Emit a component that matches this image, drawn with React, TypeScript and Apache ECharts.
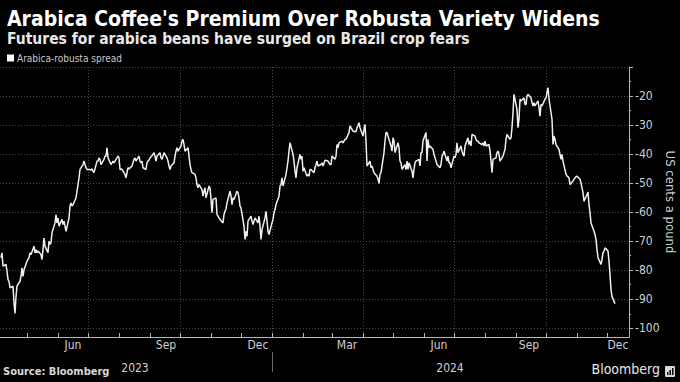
import React, { useEffect, useRef } from 'react';
import * as echarts from 'echarts';

const TITLE = "Arabica Coffee's Premium Over Robusta Variety Widens";
const SUBTITLE = 'Futures for arabica beans have surged on Brazil crop fears';
const SERIES_NAME = 'Arabica-robusta spread';
const Y_AXIS_NAME = 'US cents a pound';
const SOURCE = 'Source: Bloomberg';
const BRAND = 'Bloomberg';

// First trading day of the series and the x-axis extent
const FIRST_DAY = '2023-04-05';
const X_MIN = '2023-04-04';
const X_MAX = '2024-12-23';

// Daily arabica-robusta spread (US cents a pound), one value per trading day
const spreadAprJul2023 = [
  -75.7, -74, -78.6, -78, -80.3, -83.2, -83.8, -86.1, -85.5, -91.3,
  -94.9, -89, -85.5, -83.8, -82.1, -79.2, -82.1, -79.8, -76.9, -76.3,
  -75.7, -74, -74.6, -71.7, -74, -72.9, -74, -73.4, -74.6, -76.3,
  -72.9, -68.9, -71.7, -74, -70, -71.1, -70.6, -67.1, -63.7, -60.8,
  -63.7, -62, -64.8, -62.5, -64.3, -63.1, -64.8, -66.6, -62, -57.9,
  -56.8, -57.9, -57.4, -55.1, -52.8, -50.5, -48.2, -45.3, -43.6, -42.4,
  -43.6, -44.7, -45.3, -45.3, -45.5, -45.1, -45.9, -46.4, -42.4,
  -42.4, -41.3, -41.8, -43.6, -41.8, -40.7,
];
const spreadJulOct2023 = [
  -40.7, -37.8, -41.3, -43.6, -43, -42.4, -43, -42.4, -40.7, -41.3,
  -45.3, -45.1, -45.3, -47, -48.2, -46.4, -44.7, -45.1, -44.1, -43,
  -41.8, -41.3, -42.4, -40.7, -42.4, -43, -42.4, -44.7, -45.3, -43,
  -42.4, -42.1, -41.3, -40.1, -39.5, -40.7, -42.4, -40.7, -39.5, -41.3,
  -41.8, -40.7, -39.5, -41.3, -42.4, -44.1, -45.3, -44.1, -43, -40.7,
  -39, -37.8, -39, -37.2, -35.5, -34.9, -36.7, -39, -37.8, -40.7,
  -43.6, -45.3, -46.4, -47, -48.2, -50.5, -51.6, -50.5, -52.2, -54.5,
  -52.8, -51.6, -55.1, -51, -51.6,
];
const spreadOct2023Jan2024 = [
  -55.6, -60.2, -55.6, -55.1, -60.8, -61.4, -62, -62.5, -63.7, -60.8,
  -59.7, -58.9, -56.8, -52.8, -54.5, -57.4, -55.1, -55.6, -52.8, -53.3,
  -55.1, -57.9, -58.5, -64.8, -69.4, -66.6, -68.3, -63.1, -61.4, -63.1,
  -64.3, -63.1, -62, -63.7, -61.4, -64.8, -69.4, -66, -62, -59.7,
  -63.1, -66.6, -67.7, -63.7, -62.5, -60.2, -59.1, -57.4, -54.5, -51,
  -50.5, -48.2, -51, -47, -44.7, -42.4, -39, -36.1, -40.1, -42.4,
  -45.9, -48.2, -44.7, -40.1, -41.8, -40.7, -45.9, -44.7, -47.6, -47,
  -47.6, -45.3, -45.3, -46.4, -44.7,
];
const spreadJanApr2024 = [
  -43.6, -42.4, -44.1, -43.6, -43, -44.1, -43.2, -42.1, -42.4, -43,
  -43.6, -43.6, -40.7, -41.8, -40.7, -36.7, -37.8, -36.1, -35.5, -36.1,
  -35.5, -34.9, -34.9, -32.6, -30.3, -30.9, -31.5, -32.1, -32.3, -30.9,
  -30.1, -29.2, -30.9, -33.8, -31.5, -29.8, -35.5, -44.1, -42.4, -44.7,
  -44.1, -45.3, -46.4, -47.6, -48.5, -50.1, -47, -46.4, -39.5, -35.5,
  -32.6, -32.6, -33.8, -37.2, -39, -34.4, -35.5, -39.5, -36.1, -37.8,
  -42.4, -43, -45.3, -43.6, -45.3, -42.4, -45.3, -43, -45.9, -48.2,
  -45.3, -43, -42.4, -41.8, -44.1,
];
const spreadAprAug2024 = [
  -39.5, -39.5, -35.5, -32.6, -42.4, -34.9, -37.8, -37.2, -38.4, -40.1,
  -41.3, -42.4, -43.6, -44.7, -43.6, -40.7, -40.1, -39, -42.4, -40.7,
  -43, -43, -44.7, -40.7, -41.3, -40.1, -36.1, -39.5, -37.2, -39,
  -40.1, -40.7, -37.2, -34.4, -36.7, -35.5, -37.2, -33.2, -33.8, -34.9,
  -35.5, -35.5, -36.1, -36.7, -36.1, -37.2, -35.5, -37.2, -36.7, -39,
  -42.4, -46.4, -41.8, -41.3, -39.5, -39, -40.1, -42.4, -40.7, -39.5,
  -38.4, -34.9, -33.2, -34.9, -34.4, -30.9, -25.7, -19.4, -24.6, -30.9,
  -28, -21.1, -21.7, -20.6, -22.9,
];
const spreadAugDec2024 = [
  -22.9, -20, -19.4, -20.6, -22.3, -23.4, -22.3, -23.4, -21.7, -24,
  -26.9, -22.9, -23.4, -21.1, -20.6, -18.9, -17.1, -21.1, -28, -36.7,
  -33.8, -34.9, -36.7, -38.4, -40.1, -41.8, -40.1, -42.4, -47, -47.6,
  -47.8, -48.2, -50.5, -49.3, -48.7, -48.2, -47.8, -47.6, -48.7, -49.9,
  -51.6, -53.3, -56.2, -53.9, -53.1, -57.4, -60.2, -63.7, -66.6, -67.7,
  -69.4, -72.9, -75.7, -78, -76.3, -74, -73.4, -72.3, -73.4, -76.9,
  -81.5, -86.7, -89, -91.5,
];

// Axis ticks and labels
const yTickValues = [-100, -90, -80, -70, -60, -50, -40, -30, -20, -10];
const yLabelValues = [-100, -90, -80, -70, -60, -50, -40, -30, -20];
const yMinorTickValues = [-95, -85, -75, -65, -55, -45, -35, -25, -15];
const Y_MIN = -103;
const Y_MAX = -10;
const monthTickDates = [
  '2023-05-01', '2023-06-01', '2023-07-01', '2023-08-01', '2023-09-01', '2023-10-01',
  '2023-11-01', '2023-12-01', '2024-01-01', '2024-02-01', '2024-03-01', '2024-04-01',
  '2024-05-01', '2024-06-01', '2024-07-01', '2024-08-01', '2024-09-01', '2024-10-01',
  '2024-11-01', '2024-12-01',
];
const quarterGridDates = ['2023-07-01', '2023-10-01', '2024-01-01', '2024-04-01', '2024-07-01', '2024-10-01'];
const monthLabelDates = ['2023-06-16', '2023-09-17', '2023-12-18', '2024-03-16', '2024-06-16', '2024-09-14', '2024-12-12'];
const MONTH_NAMES = ['Jan', 'Feb', 'Mar', 'Apr', 'May', 'Jun', 'Jul', 'Aug', 'Sep', 'Oct', 'Nov', 'Dec'];
const yearLabelDates = ['2023-08-17', '2024-06-27'];
const YEAR_SEPARATOR_DATE = '2024-01-01';

const FONT = "'DejaVu Sans Condensed', 'Liberation Sans Narrow', 'DejaVu Sans', sans-serif";

function ts(s: string): number {
  const [y, m, d] = s.split('-').map(Number);
  return Date.UTC(y, m - 1, d);
}

function weekdaysFrom(start: string, count: number): number[] {
  const t = new Date(ts(start));
  const out: number[] = [];
  while (out.length < count) {
    const wd = t.getUTCDay();
    if (wd !== 0 && wd !== 6) out.push(t.getTime());
    t.setUTCDate(t.getUTCDate() + 1);
  }
  return out;
}

export default function App() {
  const ref = useRef<HTMLDivElement>(null);

  useEffect(() => {
    document.body.style.margin = '0';
    document.body.style.background = '#000';
    if (!ref.current) return;
    const chart = echarts.init(ref.current, undefined, { renderer: 'svg' });

    const values = [
      ...spreadAprJul2023,
      ...spreadJulOct2023,
      ...spreadOct2023Jan2024,
      ...spreadJanApr2024,
      ...spreadAprAug2024,
      ...spreadAugDec2024,
    ];
    const dates = weekdaysFrom(FIRST_DAY, values.length);
    const data = values.map((v, i) => [dates[i], v]);

    const axisGray = '#b8b8b8';
    const textGray = '#cfcfcf';
    const xMin = ts(X_MIN);
    const xMax = ts(X_MAX);

    chart.setOption({
      animation: false,
      backgroundColor: '#000',
      title: [
        {
          text: TITLE,
          left: 2,
          top: 3,
          textStyle: { fontFamily: FONT, fontSize: 21, fontWeight: 'bold', color: '#ffffff' },
        },
        {
          text: SUBTITLE,
          left: 2,
          top: 26,
          textStyle: { fontFamily: FONT, fontSize: 15.5, fontWeight: 'bold', color: '#e8e8e8' },
        },
      ],
      legend: {
        left: 2,
        top: 48,
        icon: 'rect',
        itemWidth: 7,
        itemHeight: 7,
        itemGap: 10,
        textStyle: { fontFamily: FONT, fontSize: 10, color: '#c8c8c8', padding: [0, 0, 0, -2] },
        data: [{ name: SERIES_NAME, itemStyle: { color: '#ffffff' } }],
      },
      grid: { left: 0, right: 51, top: 67, bottom: 45, containLabel: false, outerBoundsMode: 'none' },
      xAxis: [
        {
          type: 'value',
          position: 'bottom',
          min: xMin,
          max: xMax,
          axisLine: { show: true, lineStyle: { color: axisGray, width: 1 } },
          axisTick: { show: true, inside: true, length: 4, customValues: monthTickDates.map(ts), lineStyle: { color: axisGray } },
          axisLabel: {
            show: true,
            customValues: monthLabelDates.map(ts),
            margin: 2,
            fontFamily: FONT,
            fontSize: 12,
            color: textGray,
            formatter: (val: number) => MONTH_NAMES[new Date(val).getUTCMonth()],
          },
          splitLine: { show: false },
        },
        {
          type: 'value',
          position: 'bottom',
          min: xMin,
          max: xMax,
          axisLine: { show: false },
          axisTick: { show: false, customValues: quarterGridDates.map(ts) },
          axisLabel: { show: false },
          splitLine: { show: true, lineStyle: { color: '#4a4a4a', type: [1, 2], width: 1 } },
        },
        {
          type: 'value',
          position: 'bottom',
          offset: 16,
          min: xMin,
          max: xMax,
          axisLine: { show: false },
          axisTick: { show: false },
          axisLabel: {
            show: true,
            customValues: yearLabelDates.map(ts),
            margin: 9,
            fontFamily: FONT,
            fontSize: 12,
            color: textGray,
            formatter: (val: number) => String(new Date(val).getUTCFullYear()),
          },
          splitLine: { show: false },
        },
      ],
      yAxis: [
        {
          type: 'value',
          position: 'right',
          min: Y_MIN,
          max: Y_MAX,
          name: Y_AXIS_NAME,
          nameLocation: 'middle',
          nameRotate: -90,
          nameGap: 35,
          nameMoveOverlap: false,
          nameTextStyle: { fontFamily: FONT, fontSize: 13, color: textGray },
          axisLine: { show: true, lineStyle: { color: axisGray, width: 1 } },
          axisTick: { show: true, length: 4, customValues: yTickValues, lineStyle: { color: axisGray } },
          axisLabel: {
            show: true,
            customValues: yLabelValues,
            margin: 6,
            fontFamily: FONT,
            fontSize: 12,
            color: textGray,
          },
          splitLine: { show: true, lineStyle: { color: '#4a4a4a', type: [1, 2], width: 1 } },
        },
        {
          type: 'value',
          position: 'right',
          min: Y_MIN,
          max: Y_MAX,
          axisLine: { show: false },
          axisTick: { show: true, length: 2, customValues: yMinorTickValues, lineStyle: { color: axisGray } },
          axisLabel: { show: false },
          splitLine: { show: false },
        },
      ],
      series: [
        {
          name: SERIES_NAME,
          type: 'line',
          xAxisIndex: 0,
          yAxisIndex: 0,
          data,
          showSymbol: false,
          symbol: 'none',
          itemStyle: { color: '#ffffff' },
          lineStyle: { color: '#f0f0f0', width: 1.5 },
        },
      ],
      graphic: [
        {
          id: 'source',
          type: 'text',
          left: 3,
          top: 366,
          style: { text: SOURCE, fontFamily: FONT, fontSize: 11, fontWeight: 'bold', fill: '#d8d8d8' },
        },
        {
          id: 'brand',
          type: 'text',
          right: 20,
          top: 362,
          style: { text: BRAND, fontFamily: FONT, fontSize: 14, fill: '#e8e8e8' },
        },
        {
          id: 'logo',
          type: 'group',
          right: 5,
          top: 366,
          children: [
            { type: 'rect', shape: { x: 0, y: 0, width: 10, height: 11, r: 1 }, style: { fill: '#d8d8d8' } },
            { type: 'rect', shape: { x: 2, y: 6, width: 1.5, height: 3 }, style: { fill: '#000' } },
            { type: 'rect', shape: { x: 4.5, y: 4, width: 1.5, height: 5 }, style: { fill: '#000' } },
            { type: 'rect', shape: { x: 7, y: 2, width: 1.5, height: 7 }, style: { fill: '#000' } },
          ],
        },
      ],
    });

    // Year separator below the axis, placed through the x scale
    const px = chart.convertToPixel({ xAxisIndex: 0 }, ts(YEAR_SEPARATOR_DATE)) as number;
    if (typeof px === 'number' && isFinite(px)) {
      const sepX = Math.round(px) + 0.5;
      chart.setOption({
        graphic: [
          {
            id: 'yearSep',
            type: 'line',
            shape: { x1: sepX, y1: 352, x2: sepX, y2: 372 },
            style: { stroke: '#6a6a6a', lineWidth: 1 },
          },
        ],
      });
    }

    return () => {
      chart.dispose();
    };
  }, []);

  return <div ref={ref} style={{ width: 680, height: 382 }} />;
}
